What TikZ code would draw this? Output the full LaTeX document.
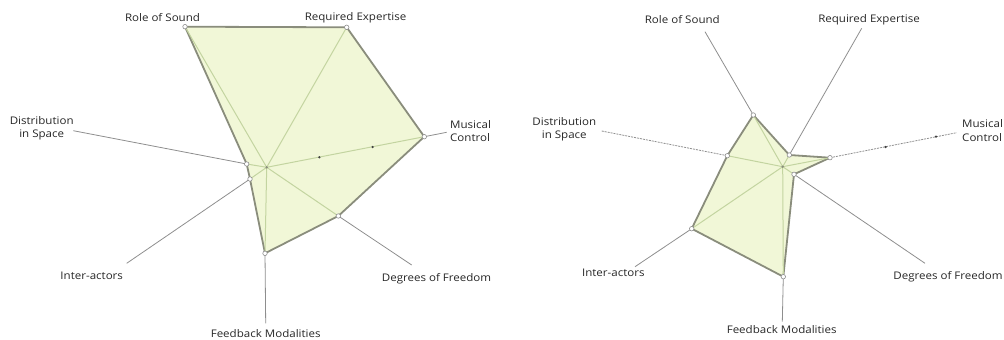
\documentclass[tikz,border=0pt]{standalone}
\usepackage{fontspec}
\setmainfont[FakeStretch=1.1]{Open Sans}
\definecolor{axisgray}{HTML}{8E8E8E}
\definecolor{edgegray}{HTML}{8A8D7C}
\definecolor{fillgreen}{HTML}{F1F7D7}
\definecolor{spokegreen}{HTML}{C3D4A0}
\tikzset{
  axisline/.style={draw=axisgray, line width=0.8pt},
  dashaxis/.style={draw=axisgray, line width=0.8pt, dash pattern=on 2pt off 1pt},
  spoke/.style={draw=spokegreen, line width=1pt},
  poly/.style={draw=edgegray, line width=1.8pt, fill=fillgreen, line join=round},
  vtx/.style={circle, draw=axisgray, fill=white, line width=0.6pt, inner sep=0pt, minimum size=4.5pt},
  tickdot/.style={circle, fill=black!75, inner sep=0pt, minimum size=2.5pt},
  lbl/.style={font=\fontsize{10.5}{13.5}\selectfont, text=black!85, inner sep=0pt, align=center},
  hub/.style={circle, inner sep=0pt, minimum size=0pt}
}
\begin{document}
\begin{tikzpicture}[x=1pt, y=-1pt]
\useasboundingbox (0,0) rectangle (1004,340);
% ---------------- left chart ----------------
\node[hub] (cL) at (266.7,167.3) {};
\coordinate (L1) at (185,26.7);
\coordinate (L2) at (346.7,27.3);
\coordinate (L3) at (424.3,136.7);
\coordinate (L4) at (338.3,216);
\coordinate (L5) at (265,253.3);
\coordinate (L6) at (250,179);
\coordinate (L7) at (246.7,164);
\coordinate (eL3) at (446.7,132.3);
\coordinate (eL4) at (411.7,265);
\coordinate (eL5) at (265.7,323.3);
\coordinate (eL6) at (126.7,263.3);
\coordinate (eL7) at (73.3,130.7);
\draw[axisline] (L3) -- (eL3);
\draw[axisline] (L4) -- (eL4);
\draw[axisline] (L5) -- (eL5);
\draw[axisline] (L6) -- (eL6);
\draw[axisline] (L7) -- (eL7);
\draw[poly] (L1) -- (L2) -- (L3) -- (L4) -- (L5) -- (L6) -- (L7) -- cycle;
\foreach \v in {L1,L2,L3,L4,L5,L6,L7} \draw[spoke] (cL.center) -- (\v);
\fill[edgegray] (cL.center) circle (1.3pt);
\node[tickdot] (tL1) at (319.3,157.3) {};
\node[tickdot] (tL2) at (372.7,147) {};
\foreach \v in {L1,L2,L3,L4,L5,L6,L7} \node[vtx] (n\v) at (\v) {};
\node[lbl] (labL1) at (162.5,17.3) {Role of Sound};
\node[lbl] (labL2) at (355.5,17.3) {Required Expertise};
\node[lbl, anchor=west, align=left] (labL3) at (450,131) {Musical\\Control};
\node[lbl] (labL4) at (436.5,279) {Degrees of Freedom};
\node[lbl] (labL5) at (265.7,333.3) {Feedback Modalities};
\node[lbl] (labL6) at (91.7,276) {Inter-actors};
\node[lbl] (labL7) at (41.7,128.5) {Distribution\\in Space};
% ---------------- right chart ----------------
\node[hub] (cR) at (782.7,166.7) {};
\coordinate (R1) at (753.3,115);
\coordinate (R2) at (789.3,155);
\coordinate (R3) at (830,157.7);
\coordinate (R4) at (794,174.3);
\coordinate (R5) at (783.3,276.7);
\coordinate (R6) at (691.7,228.7);
\coordinate (R7) at (727.3,155.7);
\coordinate (eR1) at (705,31.7);
\coordinate (eR2) at (861.7,28.3);
\coordinate (eR3) at (956.7,132.7);
\coordinate (eR4) at (925,263.3);
\coordinate (eR5) at (782.3,321.7);
\coordinate (eR6) at (635,266.7);
\coordinate (eR7) at (601.7,131);
\draw[axisline] (R1) -- (eR1);
\draw[axisline] (R2) -- (eR2);
\draw[dashaxis] (R3) -- (eR3);
\draw[axisline] (R4) -- (eR4);
\draw[axisline] (R5) -- (eR5);
\draw[axisline] (R6) -- (eR6);
\draw[dashaxis] (R7) -- (eR7);
\draw[poly] (R1) -- (R2) -- (R3) -- (R4) -- (R5) -- (R6) -- (R7) -- cycle;
\foreach \v in {R1,R2,R3,R4,R5,R6,R7} \draw[spoke] (cR.center) -- (\v);
\fill[edgegray] (cR.center) circle (1.3pt);
\node[tickdot] (tR1) at (885.7,147) {};
\node[tickdot] (tR2) at (936,136.7) {};
\foreach \v in {R1,R2,R3,R4,R5,R6,R7} \node[vtx] (n\v) at (\v) {};
\node[lbl] (labR1) at (682.3,20) {Role of Sound};
\node[lbl] (labR2) at (869,20) {Required Expertise};
\node[lbl, anchor=west, align=left] (labR3) at (962,130.5) {Musical\\Control};
\node[lbl] (labR4) at (948,276.7) {Degrees of Freedom};
\node[lbl] (labR5) at (781.7,330) {Feedback Modalities};
\node[lbl] (labR6) at (613.3,273.3) {Inter-actors};
\node[lbl] (labR7) at (564.3,129.5) {Distribution\\in Space};
\end{tikzpicture}
\end{document}
